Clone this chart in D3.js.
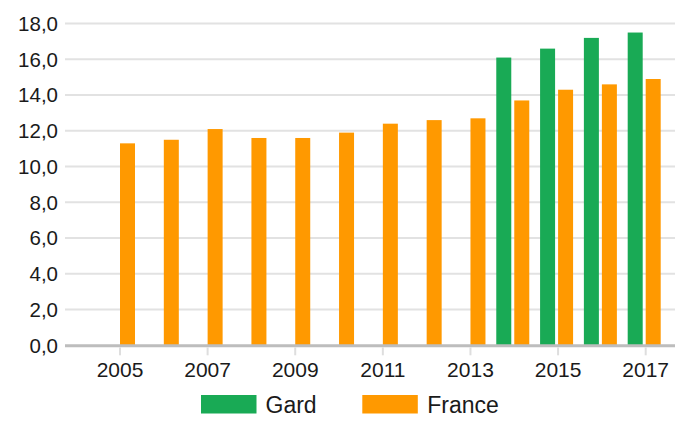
<!DOCTYPE html>
<html>
<head>
<meta charset="utf-8">
<script src="https://cdn.jsdelivr.net/npm/d3@7"></script>
<style>
  html, body { margin: 0; padding: 0; background: #fff; }
  svg { display: block; font-family: "Liberation Sans", Arial, sans-serif; }
</style>
</head>
<body>
<svg id="chart" width="675" height="421"></svg>
<script>
// Years shown on the category axis
const years = [2005, 2006, 2007, 2008, 2009, 2010, 2011, 2012, 2013, 2014, 2015, 2016, 2017];
// Series values (null = no data for that year)
const gard = [null, null, null, null, null, null, null, null, null, 16.1, 16.6, 17.2, 17.5];
const france = [11.3, 11.5, 12.1, 11.6, 11.6, 11.9, 12.4, 12.6, 12.7, 13.7, 14.3, 14.6, 14.9];
const seriesNames = ["Gard", "France"];
const seriesColors = ["#19aa55", "#ff9900"];
const yTicks = [0, 2, 4, 6, 8, 10, 12, 14, 16, 18];
const xTickYears = [2005, 2007, 2009, 2011, 2013, 2015, 2017];

const svg = d3.select("#chart");
const gridLeft = 65, gridRight = 675;
const yTop = 23.6, yBottom = 345.3;

const y = d3.scaleLinear().domain([0, 18]).range([yBottom, yTop]);
const x0 = d3.scaleBand().domain(years).range([98.1, 667.6]);
const x1 = d3.scaleBand().domain(seriesNames).range([-18, 15]).paddingInner(3 / 18);
const fmt = v => d3.format(".1f")(v).replace(".", ",");

// horizontal gridlines
svg.append("g").selectAll("line")
  .data(yTicks.filter(t => t > 0))
  .join("line")
  .attr("x1", gridLeft).attr("x2", gridRight)
  .attr("y1", d => y(d)).attr("y2", d => y(d))
  .attr("stroke", "#e2e2e2").attr("stroke-width", 2);

// y axis labels
svg.append("g").selectAll("text")
  .data(yTicks)
  .join("text")
  .attr("x", 58).attr("y", d => y(d))
  .attr("dy", "0.36em")
  .attr("text-anchor", "end")
  .attr("font-size", 20.5).attr("fill", "#1a1a1a")
  .text(fmt);

// bars
const rows = years.map((yr, i) => ({ year: yr, values: [gard[i], france[i]] }));
const groups = svg.append("g").selectAll("g")
  .data(rows)
  .join("g")
  .attr("transform", d => `translate(${x0(d.year) + x0.bandwidth() / 2},0)`);

groups.selectAll("rect")
  .data(d => d.values.map((v, k) => ({ name: seriesNames[k], value: v, color: seriesColors[k] }))
    .filter(e => e.value != null))
  .join("rect")
  .attr("x", d => x1(d.name))
  .attr("width", x1.bandwidth())
  .attr("y", d => y(d.value))
  .attr("height", d => y(0) - y(d.value))
  .attr("fill", d => d.color);

// baseline axis and tick marks
svg.append("line")
  .attr("x1", gridLeft).attr("x2", gridRight)
  .attr("y1", yBottom + 0.5).attr("y2", yBottom + 0.5)
  .attr("stroke", "#bdbdbd").attr("stroke-width", 3);

const xTicks = svg.append("g").selectAll("g")
  .data(xTickYears)
  .join("g")
  .attr("transform", d => `translate(${x0(d) + x0.bandwidth() / 2},0)`);
xTicks.append("line")
  .attr("y1", yBottom + 2).attr("y2", yBottom + 10)
  .attr("stroke", "#dedede").attr("stroke-width", 2);
xTicks.append("text")
  .attr("y", 376.5)
  .attr("text-anchor", "middle")
  .attr("font-size", 21).attr("fill", "#1a1a1a")
  .text(d => d);

// legend
const legendItems = [
  { name: "Gard", color: seriesColors[0], x: 201, tx: 265.5 },
  { name: "France", color: seriesColors[1], x: 362.3, tx: 427.3 }
];
const lg = svg.append("g").selectAll("g").data(legendItems).join("g");
lg.append("rect")
  .attr("x", d => d.x).attr("y", 395)
  .attr("width", 55.5).attr("height", 18.5)
  .attr("fill", d => d.color);
lg.append("text")
  .attr("x", d => d.tx).attr("y", 413)
  .attr("font-size", 23).attr("fill", "#1a1a1a")
  .text(d => d.name);
</script>
</body>
</html>
